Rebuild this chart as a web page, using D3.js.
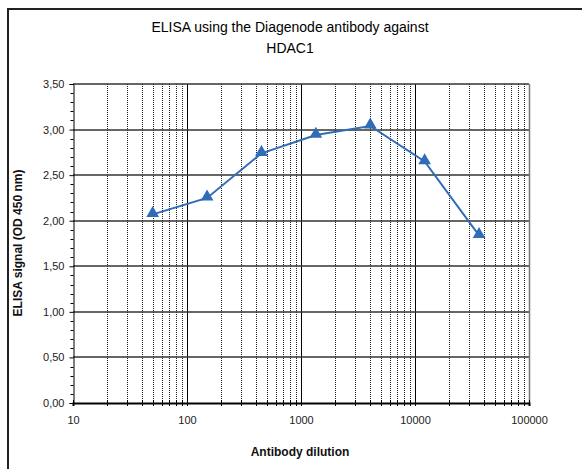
<!DOCTYPE html>
<html lang="en">
<head>
  <meta charset="UTF-8">
  <title>ELISA HDAC1</title>
  <script src="https://d3js.org/d3.v7.min.js"></script>
  <style>
    body { margin: 0; background: #fff; }
    svg { font-family: "Liberation Sans", Arial, sans-serif; }
  </style>
</head>
<body>
<svg id="chart" width="582" height="469"></svg>
<script>
  // Data
  const dilutions = [50, 150, 450, 1350, 4050, 12150, 36450];
  const signal = [2.07, 2.25, 2.74, 2.94, 3.04, 2.65, 1.84];
  const yTicks = [0, 0.5, 1, 1.5, 2, 2.5, 3, 3.5];
  const xTicks = [10, 100, 1000, 10000, 100000];

  const margin = { top: 84, right: 53, bottom: 66, left: 73 };
  const width = 582, height = 469;

  const svg = d3.select("#chart");

  // Outer frame (only top and left visible)
  svg.append("path")
     .attr("d", "M8,469 V9 H582")
     .attr("fill", "none")
     .attr("stroke", "#222")
     .attr("stroke-width", 2);

  const x = d3.scaleLog()
              .domain([10, 100000])
              .range([margin.left, width - margin.right]);
  const y = d3.scaleLinear()
              .domain([0, 3.5])
              .range([height - margin.bottom, margin.top]);

  const fmt = d => d.toFixed(2).replace(".", ",");

  // Minor vertical gridlines (dotted)
  const minor = x.ticks().filter(v => !xTicks.includes(v));
  svg.append("g").selectAll("line")
     .data(minor).enter().append("line")
     .attr("x1", d => Math.round(x(d)) + 0.5).attr("x2", d => Math.round(x(d)) + 0.5)
     .attr("y1", y(3.5)).attr("y2", y(0))
     .attr("stroke", "#222")
     .attr("stroke-dasharray", "1,1");

  // Major vertical gridlines
  svg.append("g").selectAll("line")
     .data(xTicks.slice(1, -1)).enter().append("line")
     .attr("x1", d => Math.round(x(d)) + 0.5).attr("x2", d => Math.round(x(d)) + 0.5)
     .attr("y1", y(3.5)).attr("y2", y(0))
     .attr("stroke", "#000");

  // Horizontal gridlines
  svg.append("g").selectAll("line")
     .data(yTicks.slice(1)).enter().append("line")
     .attr("x1", x(10)).attr("x2", x(100000))
     .attr("y1", d => Math.round(y(d))).attr("y2", d => Math.round(y(d)))
     .attr("stroke", "#333")
     .attr("stroke-width", 1.4);

  // Right border of plot area
  svg.append("line")
     .attr("x1", Math.round(x(100000)) + 0.5).attr("x2", Math.round(x(100000)) + 0.5)
     .attr("y1", y(3.5)).attr("y2", y(0))
     .attr("stroke", "#777").attr("stroke-width", 1.5);

  // Y axis
  const yAxis = svg.append("g")
     .attr("transform", `translate(${Math.round(x(10)) + 0.5},0)`)
     .call(d3.axisLeft(y).tickValues(yTicks).tickFormat(fmt).tickSize(4).tickPadding(5));
  yAxis.append("g").selectAll("line")
     .data(d3.range(0, 35).map(i => i / 10).filter(v => Math.round(v * 10) % 5 !== 0))
     .enter().append("line")
     .attr("x1", -3).attr("x2", 0)
     .attr("y1", d => Math.round(y(d)) + 0.5).attr("y2", d => Math.round(y(d)) + 0.5)
     .attr("stroke", "#000");

  // X axis
  const xAxis = svg.append("g")
     .attr("transform", `translate(0,${Math.round(y(0))})`)
     .call(d3.axisBottom(x).tickValues(xTicks).tickFormat(d3.format("d")).tickSize(3).tickPadding(10));
  xAxis.append("g").selectAll("line")
     .data(x.ticks()).enter().append("line")
     .attr("x1", d => Math.round(x(d)) + 0.5).attr("x2", d => Math.round(x(d)) + 0.5)
     .attr("y1", -3).attr("y2", 3)
     .attr("stroke", "#000");
  xAxis.select(".domain").attr("stroke-width", 2);

  svg.selectAll(".tick text").attr("font-size", 11).attr("fill", "#222")
     .attr("font-family", "\"Liberation Sans\", Arial, sans-serif");
  svg.selectAll(".domain").attr("stroke", "#000");

  // Series line
  const line = d3.line()
     .x((d, i) => x(dilutions[i]))
     .y(d => y(d));
  svg.append("path")
     .datum(signal)
     .attr("d", line)
     .attr("fill", "none")
     .attr("stroke", "#2f6db8")
     .attr("stroke-width", 2);

  // Triangle markers
  const tri = d3.symbol().type(d3.symbolTriangle).size(70);
  svg.append("g").selectAll("path")
     .data(signal).enter().append("path")
     .attr("d", tri)
     .attr("transform", (d, i) => `translate(${x(dilutions[i])},${y(d) - 1})`)
     .attr("fill", "#2f6db8");

  // Titles
  svg.append("text")
     .attr("x", 290).attr("y", 32)
     .attr("text-anchor", "middle")
     .attr("font-size", 14)
     .attr("fill", "#000")
     .text("ELISA using the Diagenode antibody against");
  svg.append("text")
     .attr("x", 290).attr("y", 53)
     .attr("text-anchor", "middle")
     .attr("font-size", 14)
     .attr("fill", "#000")
     .text("HDAC1");

  svg.append("text")
     .attr("x", 300).attr("y", 456)
     .attr("text-anchor", "middle")
     .attr("font-size", 12)
     .attr("font-weight", "bold")
     .attr("fill", "#111")
     .text("Antibody dilution");

  svg.append("text")
     .attr("transform", "translate(22,243) rotate(-90)")
     .attr("text-anchor", "middle")
     .attr("font-size", 12)
     .attr("font-weight", "bold")
     .attr("fill", "#111")
     .text("ELISA signal (OD 450 nm)");
</script>
</body>
</html>
